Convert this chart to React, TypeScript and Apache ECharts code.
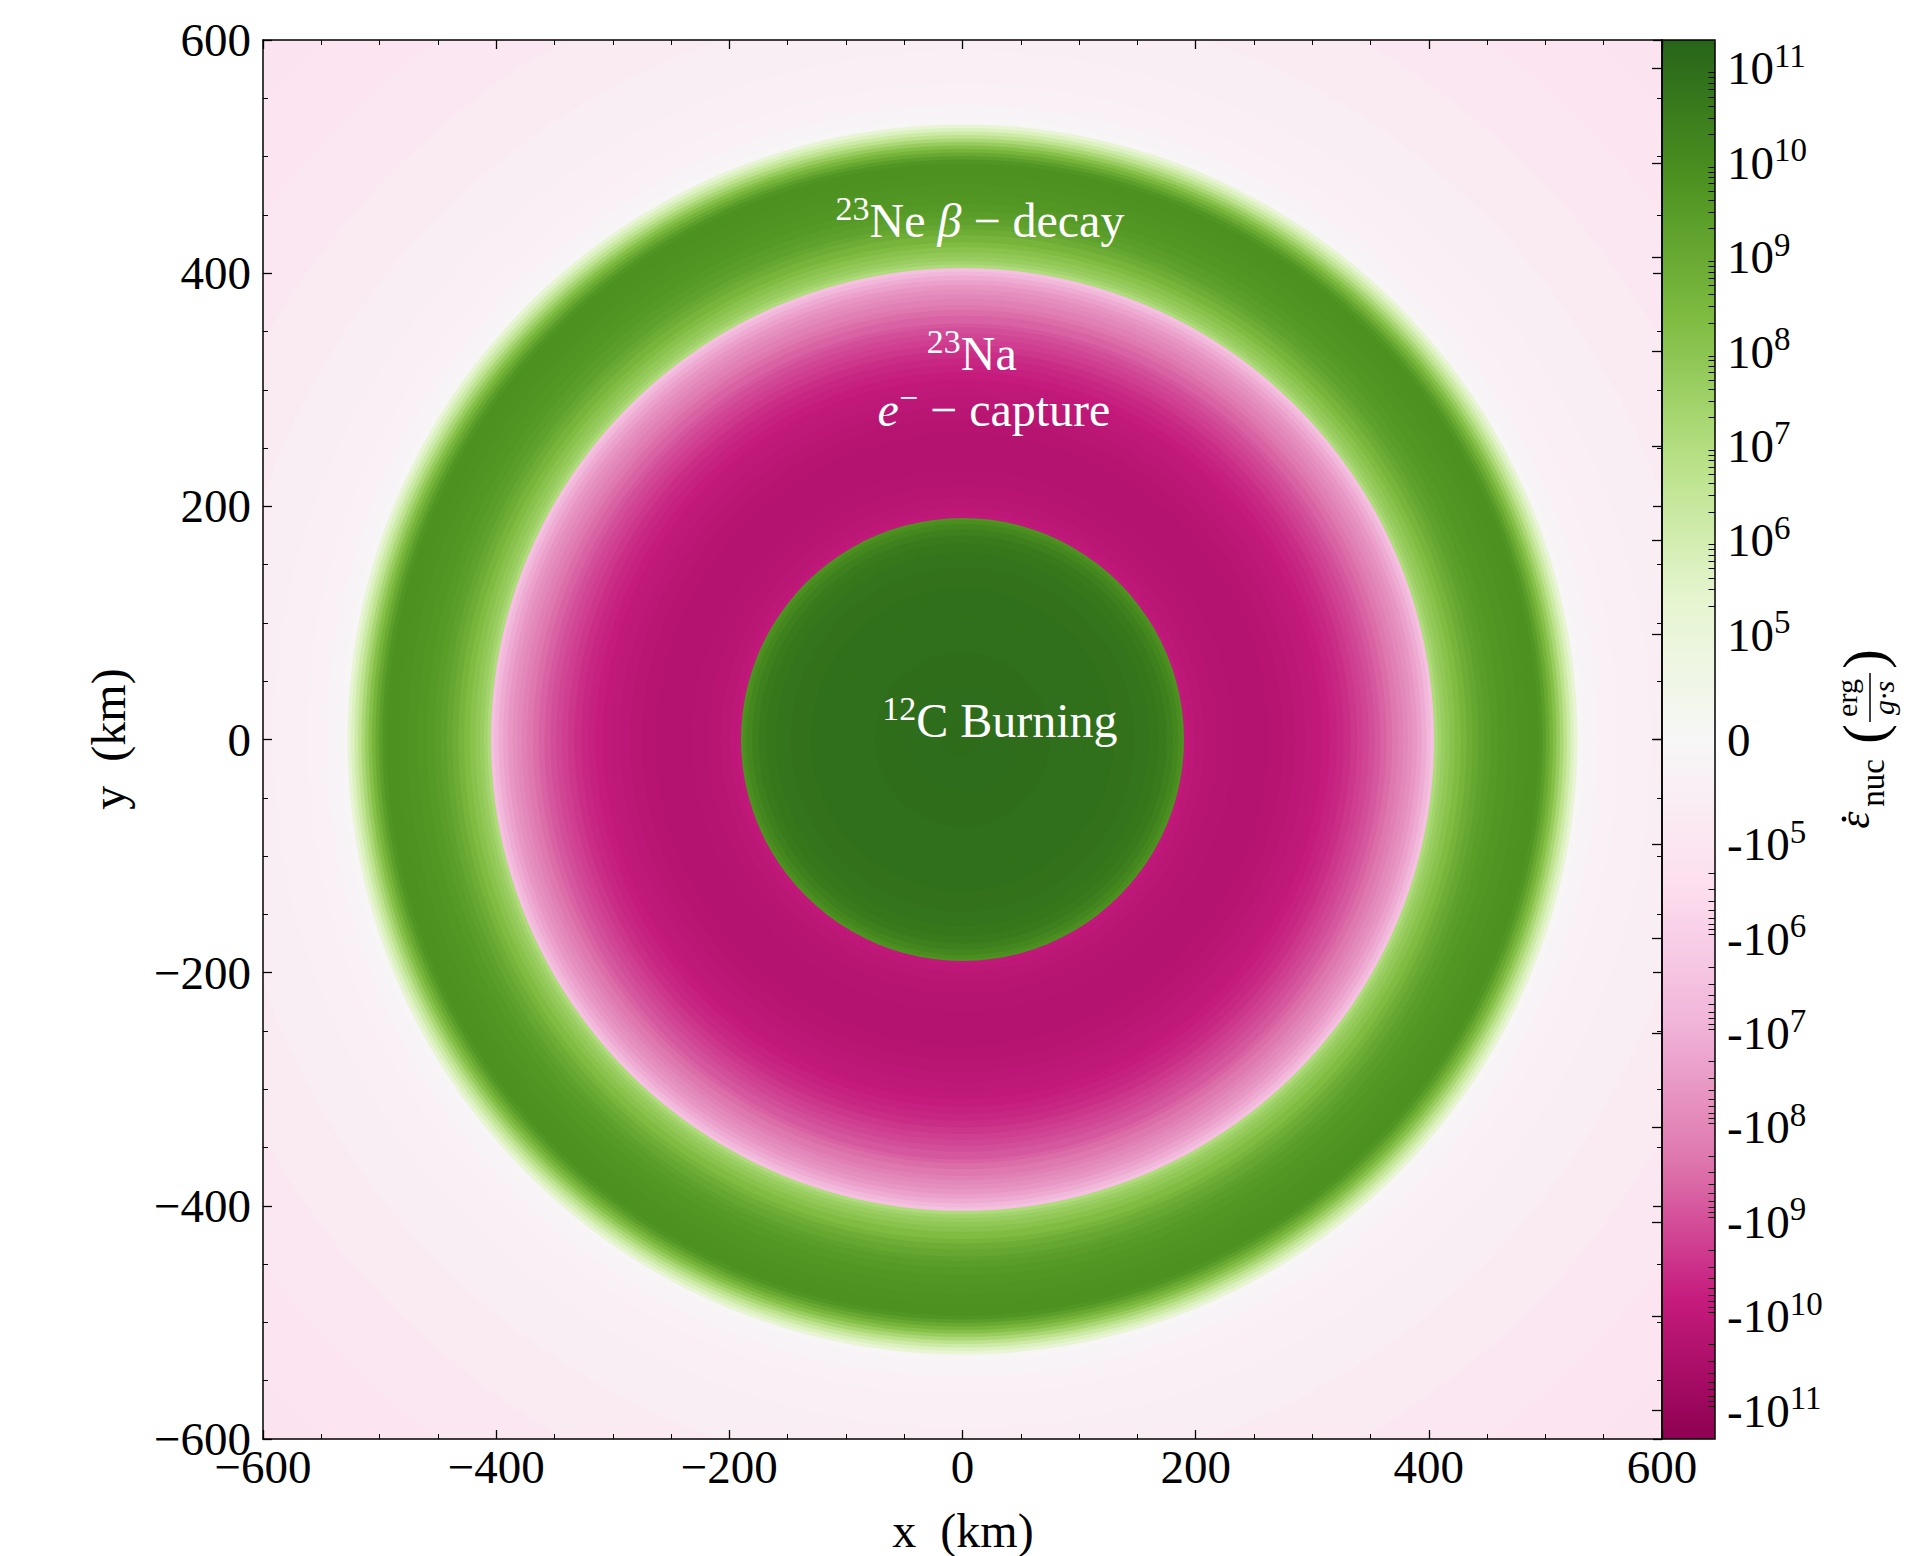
import React, { useEffect, useRef } from "react";
import * as echarts from "echarts";

// ---- radial profile of the nuclear energy generation rate ----
const profileRadiusKm = [
  0, 30, 60, 90, 120, 140, 155, 165, 172, 178, 183, 187, 189,
  191, 196, 203, 212, 225, 240, 255, 270, 280, 290, 298, 305, 312, 318, 324, 330, 336, 341, 346, 351, 356, 361, 366,
  371, 376, 380, 384, 388, 392, 396, 400, 403,
  406, 409, 412, 416, 420, 425, 430, 435, 440, 445, 450, 456, 463, 472, 480, 488, 492, 496, 499, 502, 505, 508, 511,
  514, 517, 520, 523, 526,
  529, 537, 552, 572, 610, 660, 720, 780, 840, 870,
];
const profileEpsNuc = [
  1.1e11, 1.05e11, 1.0e11, 9e10, 8e10, 7e10, 6e10, 5e10, 4e10, 2.5e10, 1.5e10, 9e9, 6e9,
  -9e9, -1.1e10, -1.3e10, -1.5e10, -1.7e10, -1.8e10, -1.8e10, -1.6e10, -1.4e10, -1.15e10, -1e10, -8.5e9, -6.8e9,
  -5.5e9, -4.4e9, -3.4e9, -2.4e9, -1.8e9, -1.35e9, -1e9, -7e8, -4.8e8, -3.2e8,
  -2.1e8, -1.3e8, -8.5e7, -5.8e7, -3.8e7, -2.2e7, -1.2e7, -6e6, -3e6,
  1.2e7, 2.5e7, 4.5e7, 7.5e7, 1.2e8, 2.2e8, 4e8, 7.5e8, 1.2e9, 1.9e9, 2.8e9, 3.8e9, 4.6e9, 5.4e9, 6.2e9, 6.5e9, 6.5e9,
  5e9, 2.5e9, 1e9, 4e8, 1.5e8, 5e7,
  1.6e7, 5e6, 1.5e6, 5e5, 1.5e5,
  -1e4, -2.5e4, -3.5e4, -4.5e4, -5.5e4, -7e4, -9e4, -1.2e5, -1.5e5, -1.7e5,
];

// ---- axes ----
const axisTicksKm = [-600, -400, -200, 0, 200, 400, 600];
const colorbarDecades = [5, 6, 7, 8, 9, 10, 11];
const colorbarMinorMultipliers = [2, 3, 4, 5, 6, 7, 8, 9];
const colorbarVmax = 2e11;
const linThresh = 1e5;
const PIYG = [
  "#8e0152", "#c51b7d", "#de77ae", "#f1b6da", "#fde0ef", "#f7f7f7",
  "#e6f5d0", "#b8e186", "#7fbc41", "#4d9221", "#276419",
];

// ---- annotations ----
const annotationX = [15, 8, 27, 32];
const annotationY = [445, 331, 283, 16];
const annotationText = [
  "{s|23}{m|Ne }{i|\u03b2}{m| \u2212 decay}",
  "{s|23}{m|Na}",
  "{i|e}{s|\u2212}{m| \u2212 capture}",
  "{s|12}{m|C Burning}",
];

const FONT = "'Liberation Serif', 'DejaVu Serif', serif";
const LINSCALE = 1 / (1 - 1 / 10);

function symlog(v: number): number {
  const a = Math.abs(v);
  if (a <= linThresh) return (v / linThresh) * LINSCALE;
  return Math.sign(v) * (LINSCALE + Math.log10(a / linThresh));
}

const SMAX = symlog(colorbarVmax);

function buildDiscData() {
  const n = profileRadiusKm.length;
  const out: number[][] = [];
  for (let i = 0; i < n; i++) {
    const rOuter = i < n - 1 ? (profileRadiusKm[i] + profileRadiusKm[i + 1]) / 2 : profileRadiusKm[i];
    out.push([rOuter, symlog(profileEpsNuc[i])]);
  }
  out.sort((a, b) => b[0] - a[0]);
  return out;
}

const majorCb: number[] = [0];
colorbarDecades.forEach((k) => {
  majorCb.push(symlog(Math.pow(10, k)));
  majorCb.push(symlog(-Math.pow(10, k)));
});
const minorCb: number[] = [];
colorbarDecades.forEach((k) => {
  colorbarMinorMultipliers.forEach((m) => {
    const v = m * Math.pow(10, k);
    if (v < colorbarVmax) {
      minorCb.push(symlog(v));
      minorCb.push(symlog(-v));
    }
  });
});

const kmFormatter = (v: number) => (v < 0 ? "\u2212" + Math.abs(v) : String(v));

export default function App() {
  const ref = useRef<HTMLDivElement>(null);

  useEffect(() => {
    if (!ref.current) return;
    const chart = echarts.init(ref.current, undefined, { renderer: "svg" });

    const tickStyle = { color: "#000", width: 1.3 };
    const mainAxisCommon = {
      type: "value",
      min: axisTicksKm[0],
      max: axisTicksKm[axisTicksKm.length - 1],
      interval: axisTicksKm[1] - axisTicksKm[0],
      axisLine: { show: true, onZero: false, lineStyle: { color: "#000", width: 1.5 } },
      axisTick: { show: true, inside: true, length: 9, lineStyle: tickStyle },
      minorTick: { show: true, splitNumber: 4, length: 5, lineStyle: { color: "#000", width: 1 } },
      splitLine: { show: false },
      minorSplitLine: { show: false },
      z: 5,
    };
    const labelStyle = { fontSize: 47, color: "#000", fontFamily: FONT, formatter: kmFormatter };

    const option: any = {
      animation: false,
      backgroundColor: "#fff",
      textStyle: { fontFamily: FONT },
      grid: [
        { left: 263, top: 40, width: 1399, height: 1399, containLabel: false },
        {
          left: 1662, top: 40, width: 53, height: 1399, containLabel: false,
          show: true, borderColor: "#000", borderWidth: 1.5, backgroundColor: "transparent", z: 10,
        },
      ],
      xAxis: [
        { ...mainAxisCommon, gridIndex: 0, position: "bottom", axisLabel: { ...labelStyle, margin: 4 } },
        { ...mainAxisCommon, gridIndex: 0, position: "top", axisLabel: { show: false } },
        { type: "value", gridIndex: 1, min: 0, max: 1, show: false },
      ],
      yAxis: [
        { ...mainAxisCommon, gridIndex: 0, position: "left", axisLabel: { ...labelStyle, margin: 12 } },
        { ...mainAxisCommon, gridIndex: 0, position: "right", axisLabel: { show: false } },
        {
          type: "value", gridIndex: 1, position: "right", min: -SMAX, max: SMAX, z: 10,
          axisLine: { show: false },
          splitLine: { show: false },
          axisTick: { show: true, inside: true, length: 10, customValues: majorCb, lineStyle: tickStyle },
          axisLabel: {
            show: true,
            customValues: majorCb,
            margin: 12,
            color: "#000",
            formatter: (value: number) => {
              if (Math.abs(value) < 1e-6) return "{b|0}";
              const k = Math.round(Math.abs(value) - LINSCALE) + 5;
              return (value < 0 ? "{b|-10}" : "{b|10}") + "{sup|" + k + "}";
            },
            rich: {
              b: { fontSize: 47, lineHeight: 58, fontFamily: FONT, color: "#000" },
              sup: { fontSize: 33, lineHeight: 33, fontFamily: FONT, color: "#000", verticalAlign: "top" },
            },
          },
        },
        {
          type: "value", gridIndex: 1, position: "right", min: -SMAX, max: SMAX, z: 10,
          axisLine: { show: false },
          splitLine: { show: false },
          axisLabel: { show: false },
          axisTick: { show: true, inside: true, length: 6.5, customValues: minorCb, lineStyle: { color: "#000", width: 1 } },
        },
      ],
      visualMap: {
        type: "continuous",
        min: -SMAX,
        max: SMAX,
        dimension: 1,
        seriesIndex: 0,
        inRange: { color: PIYG },
        orient: "vertical",
        left: 1662,
        top: 40,
        itemWidth: 53,
        itemHeight: 1399,
        calculable: false,
        hoverLink: false,
        padding: 0,
        z: 2,
      },
      series: [
        {
          type: "custom",
          xAxisIndex: 0,
          yAxisIndex: 0,
          clip: true,
          silent: true,
          z: 1,
          data: buildDiscData(),
          renderItem: (params: any, api: any) => {
            const c = api.coord([0, 0]);
            const rad = api.size([api.value(0), 0])[0];
            return {
              type: "circle",
              shape: { cx: c[0], cy: c[1], r: rad },
              style: { fill: api.visual("color"), stroke: null },
            };
          },
        },
        {
          type: "scatter",
          xAxisIndex: 0,
          yAxisIndex: 0,
          symbolSize: 0,
          silent: true,
          z: 3,
          itemStyle: { opacity: 1 },
          data: annotationX.map((x, i) => [x, annotationY[i]]),
          label: {
            show: true,
            position: "inside",
            color: "#fff",
            opacity: 1,
            formatter: (p: any) => annotationText[p.dataIndex],
            rich: {
              m: { fontSize: 48, lineHeight: 58, fontFamily: FONT, color: "#fff", opacity: 1 },
              i: { fontSize: 48, lineHeight: 58, fontFamily: FONT, fontStyle: "italic", color: "#fff", opacity: 1 },
              s: { fontSize: 34, lineHeight: 34, fontFamily: FONT, color: "#fff", verticalAlign: "top", opacity: 1 },
            },
          },
        },
      ],
      graphic: [
        {
          type: "text",
          x: 963,
          y: 1530,
          style: {
            text: "x  (km)", fontSize: 48, fontFamily: FONT, fill: "#000",
            align: "center", verticalAlign: "middle", textAlign: "center", textVerticalAlign: "middle",
          },
        },
        {
          type: "text",
          x: 108,
          y: 739,
          rotation: Math.PI / 2,
          style: {
            text: "y  (km)", fontSize: 48, fontFamily: FONT, fill: "#000",
            align: "center", verticalAlign: "middle", textAlign: "center", textVerticalAlign: "middle",
          },
        },
        {
          type: "group",
          x: 1866,
          y: 739,
          rotation: Math.PI / 2,
          children: [
            {
              type: "text", x: -81, y: -12,
              style: { text: "\u03b5", fontSize: 44, fontStyle: "italic", fontFamily: FONT, fill: "#000",
                align: "center", verticalAlign: "middle", textAlign: "center", textVerticalAlign: "middle" },
            },
            { type: "circle", shape: { cx: -80, cy: -22, r: 2.4 }, style: { fill: "#000" } },
            {
              type: "text", x: -44, y: 7,
              style: { text: "nuc", fontSize: 33, fontFamily: FONT, fill: "#000",
                align: "center", verticalAlign: "middle", textAlign: "center", textVerticalAlign: "middle" },
            },
            {
              type: "text", x: 5, y: -2,
              style: { text: "(", fontSize: 60, fontFamily: FONT, fill: "#000",
                align: "center", verticalAlign: "middle", textAlign: "center", textVerticalAlign: "middle" },
            },
            {
              type: "text", x: 41, y: -20,
              style: { text: "erg", fontSize: 30, fontFamily: FONT, fill: "#000",
                align: "center", verticalAlign: "middle", textAlign: "center", textVerticalAlign: "middle" },
            },
            { type: "line", shape: { x1: 17, y1: 4, x2: 66, y2: 4 }, style: { stroke: "#000", lineWidth: 1.5 } },
            {
              type: "text", x: 41, y: 17,
              style: { text: "g\u00b7s", fontSize: 30, fontStyle: "italic", fontFamily: FONT, fill: "#000",
                align: "center", verticalAlign: "middle", textAlign: "center", textVerticalAlign: "middle" },
            },
            {
              type: "text", x: 80, y: -2,
              style: { text: ")", fontSize: 60, fontFamily: FONT, fill: "#000",
                align: "center", verticalAlign: "middle", textAlign: "center", textVerticalAlign: "middle" },
            },
          ],
        },
      ],
    };

    chart.setOption(option);
    return () => chart.dispose();
  }, []);

  return (
    <div
      ref={ref}
      style={{ position: "absolute", left: 0, top: 0, width: 1928, height: 1556, background: "#fff" }}
    />
  );
}
